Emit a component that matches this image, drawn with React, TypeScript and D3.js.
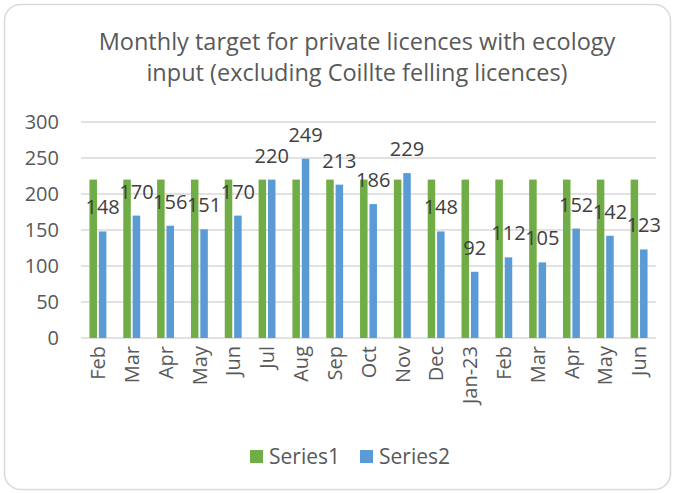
import React from "react";
import * as d3 from "d3";

const categories = ["Feb","Mar","Apr","May","Jun","Jul","Aug","Sep","Oct","Nov","Dec","Jan-23","Feb","Mar","Apr","May","Jun"];
const series1 = [220,220,220,220,220,220,220,220,220,220,220,220,220,220,220,220,220];
const series2 = [148,170,156,151,170,220,249,213,186,229,148,92,112,105,152,142,123];
const seriesNames = ["Series1","Series2"];
const seriesColors = ["#70ad47","#5b9bd5"];
const yTicks = [0,50,100,150,200,250,300];
const titleLines = ["Monthly target for private licences with ecology","input (excluding Coillte felling licences)"];

const W = 675, H = 493;
const FONT = "'Open Sans', 'DejaVu Sans', sans-serif";

export default function App() {
  const left = 81, right = 656, top = 122, bottom = 338;
  const idx = categories.map((_, i) => String(i));
  const x0 = d3.scaleBand<string>().domain(idx).range([left, right]).paddingInner(0.5).paddingOuter(0.25);
  const x1 = d3.scaleBand<string>().domain(seriesNames).range([0, x0.bandwidth()]).paddingInner(0.2);
  const y = d3.scaleLinear().domain([0, 300]).range([bottom, top]);
  const data = [series1, series2];

  return (
    <div style={{ position: "absolute", left: 0, top: 0 }}>
      <svg width={W} height={H} style={{ display: "block", fontFamily: FONT }}>
        <rect x={0} y={0} width={W} height={H} fill="#ffffff" />
        <rect x={4.5} y={4.5} width={666} height={485} rx={16} ry={16} fill="#ffffff" stroke="#d9d9d9" strokeWidth={1.5} />
        {titleLines.map((t, i) => (
          <text key={i} x={357} y={50 + i * 31} textAnchor="middle" fontSize={23.5} fill="#595959">{t}</text>
        ))}
        {yTicks.map((t) => (
          <g key={t}>
            <line x1={left} x2={right} y1={y(t)} y2={y(t)} stroke="#d9d9d9" strokeWidth={1.3} />
            <text x={59} y={y(t)} dy="0.36em" textAnchor="end" fontSize={20} fill="#595959">{t}</text>
          </g>
        ))}
        {data.map((vals, si) => (
          <g key={si}>
            {vals.map((v, i) => (
              <rect key={i} x={(x0(String(i)) as number) + (x1(seriesNames[si]) as number)} y={y(v)} width={x1.bandwidth()} height={y(0) - y(v)} fill={seriesColors[si]} />
            ))}
          </g>
        ))}
        {series2.map((v, i) => (
          <text key={i} x={(x0(String(i)) as number) + (x1("Series2") as number) + x1.bandwidth() / 2} y={y(v) - 17} textAnchor="middle" fontSize={20} fill="#404040">{v}</text>
        ))}
        {categories.map((c, i) => {
          const cx = (x0(String(i)) as number) + x0.bandwidth() / 2;
          return (
            <text key={i} transform={`translate(${cx},${346}) rotate(-90)`} dy="0.36em" textAnchor="end" fontSize={20} fill="#595959">{c}</text>
          );
        })}
        {seriesNames.map((s, i) => (
          <g key={s} transform={`translate(${250 + i * 110},450)`}>
            <rect x={0} y={0} width={13} height={13} fill={seriesColors[i]} />
            <text x={19} y={6.5} dy="0.36em" fontSize={21} fill="#595959">{s}</text>
          </g>
        ))}
      </svg>
    </div>
  );
}
